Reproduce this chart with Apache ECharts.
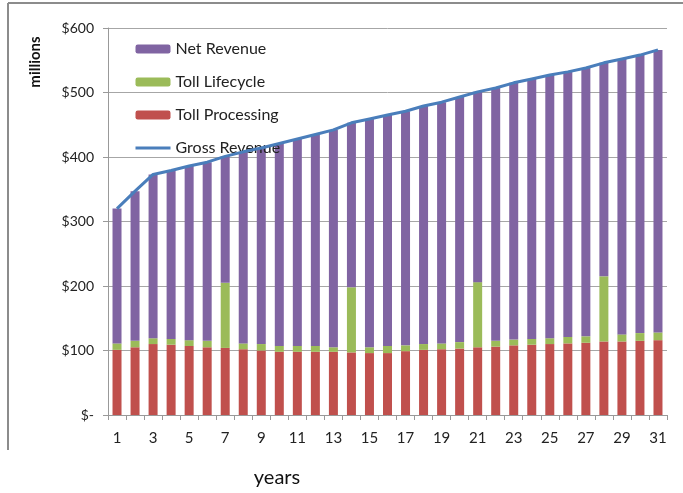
<!DOCTYPE html>
<html><head><meta charset="utf-8">
<script src="https://cdn.jsdelivr.net/npm/echarts@6/dist/echarts.min.js"></script>
<style>html,body{margin:0;padding:0;background:#fff}#c{width:683px;height:493px}</style>
</head><body><div id="c"></div>
<script>
var years = ['1','2','3','4','5','6','7','8','9','10','11','12','13','14','15','16','17','18','19','20','21','22','23','24','25','26','27','28','29','30','31'];
var tollProcessing = [101,105,110,109,107,105,104,102,100,98,98,98,98,97,96,96,99,101,102,103,105,106,108,109,110,111,112,114,114,115,116];
var tollLifecycle = [10,10,9,9,9,10,101,9,10,9,9,9,7,101,9,11,9,9,9,10,101,9,9,9,9,10,10,101,11,12,12];
var netRevenue = [209,232,254,261,270,277,196,297,304,314,321,328,337,255,354,358,363,369,374,380,295,392,398,403,408,411,416,331,427,431,438];
var grossRevenue = [320,347,373,379,386,392,401,408,414,421,428,435,442,453,459,465,471,479,485,493,501,507,515,521,527,532,538,546,552,558,566];

var FONT = 'Lato, "Open Sans", sans-serif';
var chart = echarts.init(document.getElementById('c'));
chart.setOption({
  animation: false,
  textStyle: {fontFamily: FONT},
  grid: {left: 108, right: 16, top: 28, bottom: 78},
  legend: {
    orient: 'vertical', left: 129, top: 36, itemGap: 17,
    itemWidth: 35, itemHeight: 9,
    textStyle: {fontSize: 16, color: '#222', fontFamily: FONT},
    data: ['Net Revenue','Toll Lifecycle','Toll Processing',
      {name:'Gross Revenue', itemStyle:{opacity:0}, lineStyle:{width:3}}]
  },
  graphic: [
    {type:'line', shape:{x1:8,y1:3,x2:683,y2:3}, style:{stroke:'#8c8c8c', lineWidth:2}},
    {type:'line', shape:{x1:8,y1:3,x2:8,y2:450}, style:{stroke:'#8c8c8c', lineWidth:2}},
    {type:'text', x:35, y:62, rotation:Math.PI/2, style:{text:'millions', font:'bold 15px ' + FONT, fill:'#111', textAlign:'center', textVerticalAlign:'middle'}},
    {type:'text', x:277, y:478, style:{text:'years', font:'20px ' + FONT, fill:'#111', textAlign:'center', textVerticalAlign:'middle'}}
  ],
  xAxis: {
    type: 'category', data: years,
    axisLine: {lineStyle: {color: '#999'}},
    axisTick: {show: true, interval: 0, length: 5, lineStyle: {color: '#999'}},
    axisLabel: {interval: 1, margin: 16, fontSize: 15, color: '#222', fontFamily: FONT}
  },
  yAxis: {
    type: 'value', min: 0, max: 600, interval: 100,
    axisLine: {show: true, lineStyle: {color: '#999'}},
    axisTick: {show: true, length: 5, lineStyle: {color: '#999'}},
    splitLine: {lineStyle: {color: '#a6a6a6'}},
    axisLabel: {margin: 14, fontSize: 14, color: '#222', fontFamily: FONT,
      formatter: function(v){ return v === 0 ? '$-' : '$' + v; }}
  },
  series: [
    {name:'Toll Processing', type:'bar', stack:'s', barWidth:9, data:tollProcessing, itemStyle:{color:'#C0504D'}},
    {name:'Toll Lifecycle', type:'bar', stack:'s', barWidth:9, data:tollLifecycle, itemStyle:{color:'#9BBB59'}},
    {name:'Net Revenue', type:'bar', stack:'s', barWidth:9, data:netRevenue, itemStyle:{color:'#8064A2'}},
    {name:'Gross Revenue', type:'line', data:grossRevenue, symbol:'none', lineStyle:{color:'#4A7EBB', width:3}, itemStyle:{color:'#4A7EBB'}, z:5}
  ]
});
</script>
</body></html>
